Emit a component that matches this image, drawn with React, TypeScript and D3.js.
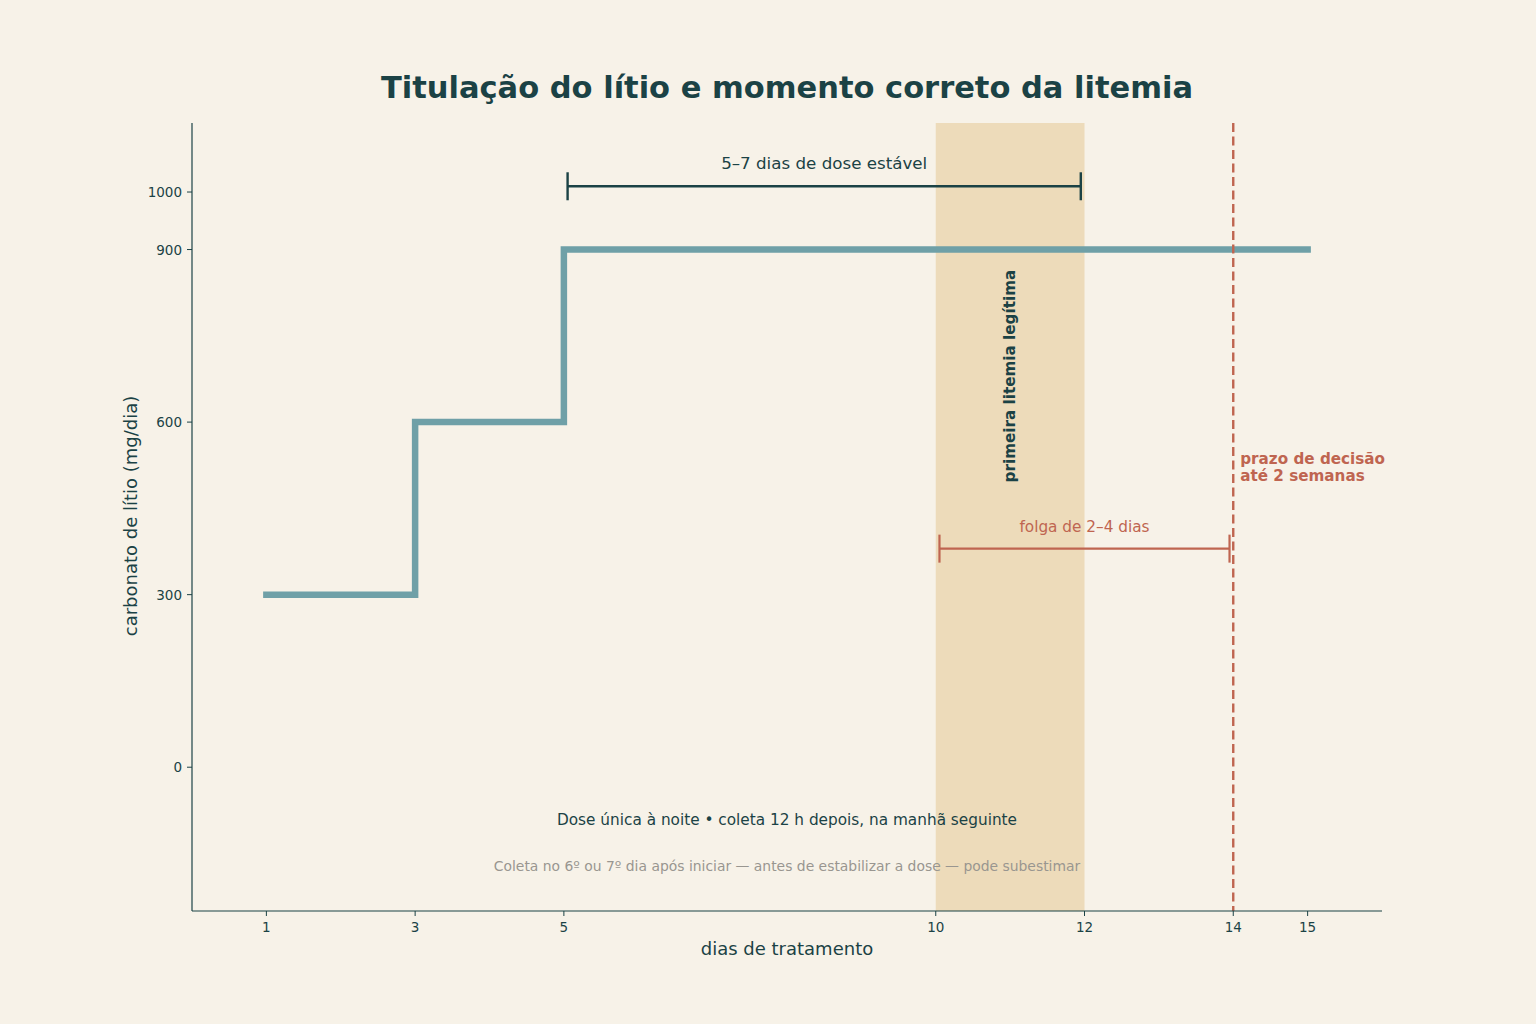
import { useEffect } from 'react'
import * as d3 from 'd3'

const doseDays = [1, 3, 5, 15]
const doseValues = [300, 600, 900, 900]
const xTicks = [1, 3, 5, 10, 12, 14, 15]
const yTicks = [0, 300, 600, 900, 1000]
const bandDays = [10, 12]
const deadlineDay = 14
const stableBracket = [5.05, 11.95]
const stableBracketY = 1010
const slackBracket = [10.05, 13.95]
const slackBracketY = 380

const W = 1536
const H = 1024
const M = { left: 192, right: 1382, top: 123, bottom: 911 }

const bg = '#f7f2e8'
const dark = '#1b4245'
const teal = '#6fa0a7'
const rust = '#bf6550'
const font = 'DejaVu Sans, Verdana, sans-serif'

export default function App() {
  useEffect(() => {
    document.body.style.margin = '0'
    document.body.style.background = bg
  }, [])

  const x = d3.scaleLinear().domain([0, 16]).range([M.left, M.right])
  const y = d3.scaleLinear().domain([-250, 1120]).range([M.bottom, M.top])

  const line = d3
    .line<number>()
    .x((_, i) => x(doseDays[i]))
    .y(d => y(d))
    .curve(d3.curveStepAfter)

  const bracket = (xs: number[], yv: number, color: string, w: number) => {
    const yy = y(yv)
    return (
      <g stroke={color} strokeWidth={w} fill="none">
        <line x1={x(xs[0])} x2={x(xs[1])} y1={yy} y2={yy} />
        <line x1={x(xs[0])} x2={x(xs[0])} y1={yy - 14} y2={yy + 14} />
        <line x1={x(xs[1])} x2={x(xs[1])} y1={yy - 14} y2={yy + 14} />
      </g>
    )
  }

  return (
    <svg width={W} height={H} style={{ display: 'block', background: bg, fontFamily: font }}>
      <rect width={W} height={H} fill={bg} />
      <text x={787} y={98} textAnchor="middle" fontSize={30.5} fontWeight="bold" fill={dark}>
        Titulação do lítio e momento correto da litemia
      </text>

      {/* janela da primeira litemia */}
      <rect
        x={x(bandDays[0])}
        y={M.top}
        width={x(bandDays[1]) - x(bandDays[0])}
        height={M.bottom - M.top}
        fill="#e8d1a6"
        opacity={0.7}
      />

      {/* curva de dose */}
      <path d={line(doseValues) ?? ''} fill="none" stroke={teal} strokeWidth={6.5} strokeLinecap="square" />

      {/* prazo */}
      <line
        x1={x(deadlineDay)}
        x2={x(deadlineDay)}
        y1={M.top}
        y2={M.bottom}
        stroke={rust}
        strokeWidth={2.4}
        strokeDasharray="9 4.5"
      />

      {bracket(stableBracket, stableBracketY, dark, 2.4)}
      <text x={(x(stableBracket[0]) + x(stableBracket[1])) / 2} y={y(stableBracketY) - 17} textAnchor="middle" fontSize={16.7} fill={dark}>
        5–7 dias de dose estável
      </text>

      {bracket(slackBracket, slackBracketY, rust, 2.2)}
      <text x={(x(slackBracket[0]) + x(slackBracket[1])) / 2} y={y(slackBracketY) - 17} textAnchor="middle" fontSize={15.3} fill={rust}>
        folga de 2–4 dias
      </text>

      <text
        transform={`translate(${x(11) + 5},${y(680)}) rotate(-90)`}
        textAnchor="middle"
        fontSize={15.2}
        fontWeight="bold"
        fill={dark}
      >
        primeira litemia legítima
      </text>

      <text x={x(deadlineDay) + 7} y={464} fontSize={15.2} fontWeight="bold" fill={rust}>
        <tspan x={x(deadlineDay) + 7}>prazo de decisão</tspan>
        <tspan x={x(deadlineDay) + 7} dy={17}>até 2 semanas</tspan>
      </text>

      <text x={787} y={825} textAnchor="middle" fontSize={15.3} fill={dark}>
        Dose única à noite • coleta 12 h depois, na manhã seguinte
      </text>
      <text x={787} y={871} textAnchor="middle" fontSize={13.9} fill="#999690">
        Coleta no 6º ou 7º dia após iniciar — antes de estabilizar a dose — pode subestimar
      </text>

      {/* eixos */}
      <line x1={M.left} x2={M.left} y1={M.top} y2={M.bottom} stroke={dark} strokeWidth={1.2} />
      <line x1={M.left} x2={M.right} y1={M.bottom} y2={M.bottom} stroke={dark} strokeWidth={1.2} />
      {xTicks.map(t => (
        <g key={t}>
          <line x1={x(t)} x2={x(t)} y1={M.bottom} y2={M.bottom + 5} stroke={dark} />
          <text x={x(t)} y={M.bottom + 21} textAnchor="middle" fontSize={13.5} fill={dark}>
            {t}
          </text>
        </g>
      ))}
      {yTicks.map(t => (
        <g key={t}>
          <line x1={M.left - 5} x2={M.left} y1={y(t)} y2={y(t)} stroke={dark} />
          <text x={M.left - 10} y={y(t) + 5} textAnchor="end" fontSize={13.5} fill={dark}>
            {t}
          </text>
        </g>
      ))}
      <text x={787} y={955} textAnchor="middle" fontSize={18} fill={dark}>
        dias de tratamento
      </text>
      <text transform={`translate(137,${(M.top + M.bottom) / 2 - 1}) rotate(-90)`} textAnchor="middle" fontSize={18} fill={dark}>
        carbonato de lítio (mg/dia)
      </text>
    </svg>
  )
}
